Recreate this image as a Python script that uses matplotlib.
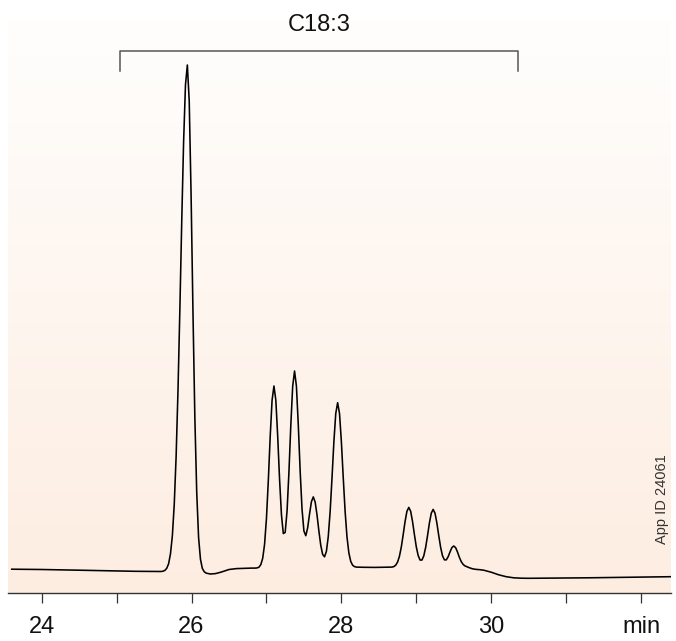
import numpy as np
import matplotlib
matplotlib.use("Agg")
import matplotlib.pyplot as plt
from matplotlib.colors import LinearSegmentedColormap

plt.rcParams['font.family'] = ['Liberation Sans', 'DejaVu Sans']

# ---- data: chromatogram trace (time in min, detector signal) ----
time_min = [
    23.60, 23.80, 24.00, 24.25, 24.50, 24.75, 25.00, 25.25, 25.50,
    25.594, 25.619, 25.644, 25.669, 25.694, 25.719, 25.744, 25.769, 25.794, 25.819,
    25.844, 25.869, 25.894, 25.919, 25.944, 25.969, 25.994, 26.019, 26.044, 26.069,
    26.094, 26.119, 26.144, 26.169, 26.194,
    26.25, 26.32, 26.40, 26.50, 26.60, 26.70, 26.80,
    26.850, 26.875, 26.900, 26.925, 26.950, 26.975, 27.000, 27.025, 27.050, 27.075,
    27.100, 27.125, 27.150, 27.175, 27.200, 27.225, 27.250, 27.275, 27.300, 27.325,
    27.350, 27.375, 27.400, 27.425, 27.450, 27.475, 27.500, 27.525, 27.550, 27.575,
    27.600, 27.625, 27.650, 27.675, 27.700, 27.725, 27.750, 27.775, 27.800, 27.825,
    27.850, 27.875, 27.900, 27.925, 27.950, 27.975, 28.000, 28.025, 28.050, 28.075,
    28.100, 28.125, 28.150, 28.175, 28.200,
    28.30, 28.45, 28.55,
    28.650, 28.675, 28.700, 28.725, 28.750, 28.775, 28.800, 28.825, 28.850, 28.875,
    28.900, 28.925, 28.950, 28.975, 29.000, 29.025, 29.050, 29.075, 29.100, 29.125,
    29.150, 29.175, 29.200, 29.225, 29.250, 29.275, 29.300, 29.325, 29.350, 29.375,
    29.400, 29.425, 29.450, 29.475, 29.500, 29.525, 29.550, 29.575, 29.600, 29.625,
    29.650, 29.675,
    29.70, 29.75, 29.80, 29.85, 29.90, 29.95, 30.00, 30.05, 30.10, 30.15,
    30.20, 30.25, 30.30, 30.40, 30.50, 30.70, 30.90, 31.10, 31.30, 31.50,
    31.70, 31.90, 32.10, 32.30, 32.40,
]
signal = [
    2.8, 2.7, 2.5, 2.2, 1.8, 1.4, 1.0, 0.7, 0.5,
    0.5, 0.8, 1.6, 3.7, 8.3, 18.3, 36.3, 67.3, 115.3, 181.3,
    262.2, 350.2, 430.1, 487.1, 507.0, 471.0, 377.0, 260.0, 155.0, 80.0,
    34.5, 12.8, 3.6, 0.3, -1.1,
    -2.0, -1.6, 0.0, 2.5, 3.4, 3.7, 3.9,
    3.9, 4.1, 4.8, 7.4, 13.8, 27.8, 53.6, 91.6, 135.5, 171.8,
    186.0, 171.9, 135.8, 92.7, 57.3, 38.4, 39.6, 61.0, 99.8, 146.6,
    185.7, 201.0, 185.8, 146.9, 100.7, 62.6, 41.0, 36.3, 44.2, 57.9,
    70.2, 75.1, 70.0, 57.0, 40.9, 26.6, 17.6, 15.2, 20.6, 35.4,
    60.4, 94.1, 130.2, 158.5, 169.3, 158.6, 130.3, 94.3, 60.5, 35.0,
    19.1, 10.6, 6.8, 5.4, 4.9,
    4.7, 4.6, 4.7,
    4.7, 4.9, 5.4, 6.8, 9.9, 15.7, 25.0, 37.3, 50.4, 60.7,
    64.6, 60.7, 50.4, 37.4, 25.2, 16.5, 12.0, 11.9, 16.1, 24.6,
    36.3, 48.9, 58.8, 62.6, 58.8, 48.9, 36.3, 24.6, 16.2, 12.2,
    12.1, 15.2, 20.0, 24.4, 26.0, 24.4, 20.0, 14.7, 10.4, 7.6,
    6.1, 5.3,
    4.5, 3.2, 2.6, 2.3, 1.8, 0.8, -0.2, -1.5, -2.8, -3.8,
    -4.7, -5.3, -5.8, -6.2, -6.3, -6.2, -6.0, -6.0, -5.8, -5.6,
    -5.4, -5.3, -5.1, -4.8, -4.7,
]

tick_values = [24, 25, 26, 27, 28, 29, 30, 31, 32]
tick_labels = ['24', '', '26', '', '28', '', '30', '', 'min']

bracket_label = 'C18:3'
bracket_start, bracket_end = 25.05, 30.36
app_id = 'App ID 24061'

# ---- figure ----
W, H = 676, 641
fig = plt.figure(figsize=(W / 100, H / 100), dpi=100)
ax = fig.add_axes([8 / W, (H - 593) / H, (671 - 8) / W, (593 - 20) / H])

x0, x1 = 23.55, 32.40
y0, y1 = -21, 552
ax.set_xlim(x0, x1)
ax.set_ylim(y0, y1)

# background gradient (white at top -> peach at bottom)
cmap = LinearSegmentedColormap.from_list('bg', ['#FDEDE1', '#FFFEFD'])
grad = np.linspace(0, 1, 256).reshape(-1, 1)
ax.imshow(grad, extent=[x0, x1, y0, y1], aspect='auto', cmap=cmap,
          origin='lower', zorder=0, interpolation='bilinear')

ax.plot(time_min, signal, color='black', lw=1.15, zorder=3,
        solid_joinstyle='round')

# bracket with label
by_top, by_bot = 521, 501
ax.plot([bracket_start, bracket_start, bracket_end, bracket_end],
        [by_bot, by_top, by_top, by_bot], color='#555555', lw=1.1,
        clip_on=False, zorder=4)
ax.text((bracket_start + bracket_end) / 2, 547, bracket_label, ha='center',
        va='center', fontsize=17, color='#111111', clip_on=False)

ax.text(32.285, 73, app_id, rotation=90, ha='center', va='center',
        fontsize=10.5, color='#333333')

for s in ['left', 'right', 'top']:
    ax.spines[s].set_visible(False)
ax.spines['bottom'].set_color('#333333')
ax.spines['bottom'].set_linewidth(1.0)
ax.set_yticks([])
ax.set_xticks(tick_values)
ax.set_xticklabels(tick_labels)
ax.tick_params(axis='x', direction='out', length=7.2, width=0.9,
               color='#333333', labelsize=17, pad=9.5, labelcolor='#111111')

fig.savefig('out.png', dpi=100)
